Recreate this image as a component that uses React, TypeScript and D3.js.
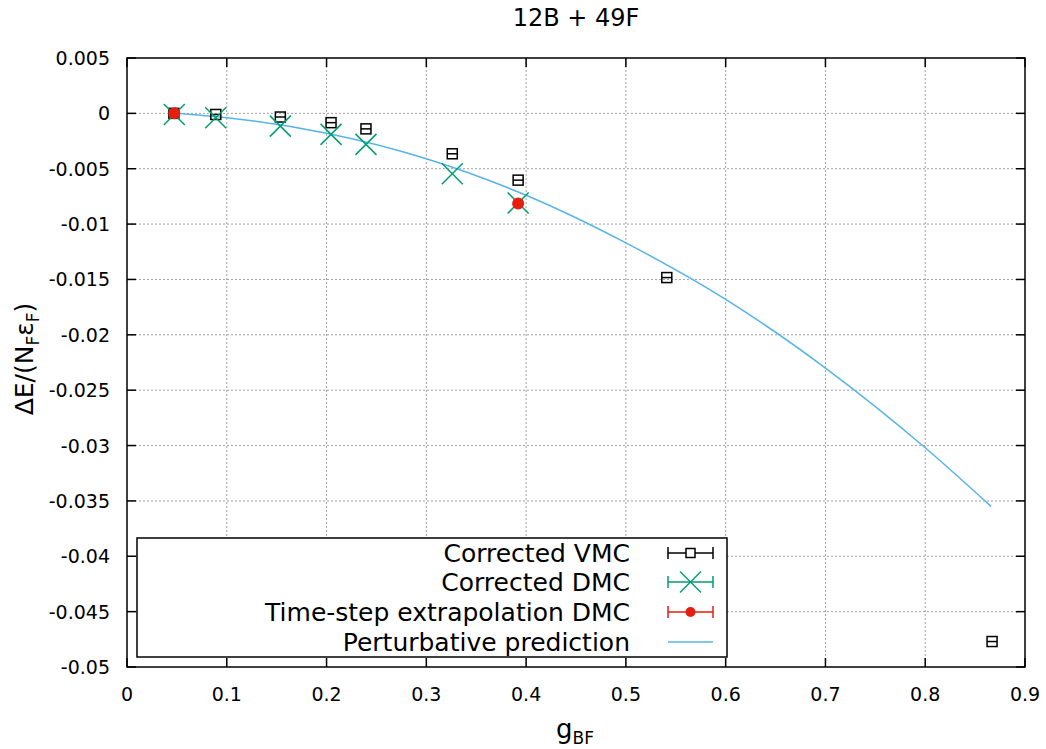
import React from "react";
import * as d3 from "d3";

const vmcX = [0.047, 0.089, 0.1537, 0.2045, 0.2395, 0.326, 0.392, 0.541, 0.867];
const vmcY = [0.0, -0.0001, -0.00033, -0.00084, -0.0014, -0.00365, -0.00603, -0.01483, -0.0477];
const dmcX = [0.0474, 0.0889, 0.1537, 0.2045, 0.2395, 0.326, 0.392];
const dmcY = [-0.0001, -0.0004, -0.00115, -0.0019, -0.0028, -0.00545, -0.0081];
const tsX = [0.0474, 0.392];
const tsY = [0.0, -0.00814];
const pertX = [0.048, 0.1, 0.2, 0.3, 0.4, 0.5, 0.6, 0.7, 0.8, 0.866];
const pertY = [0.0, -0.0004, -0.0018, -0.0041, -0.0074, -0.0117, -0.0168, -0.023, -0.0302, -0.0355];
const xTicks = [0, 0.1, 0.2, 0.3, 0.4, 0.5, 0.6, 0.7, 0.8, 0.9];
const yTicks = [0.005, 0, -0.005, -0.01, -0.015, -0.02, -0.025, -0.03, -0.035, -0.04, -0.045, -0.05];
const legendLabels = ["Corrected VMC", "Corrected DMC", "Time-step extrapolation DMC", "Perturbative prediction"];

const W = 1046, H = 749;
const L = 127, R = 1025, T = 58, B = 667;
const FONT = "DejaVu Sans, sans-serif";
const GREEN = "#009e73", RED = "#e51e10", BLUE = "#56b4e9";

export default function App() {
  const x = d3.scaleLinear().domain([0, 0.9]).range([L, R]);
  const y = d3.scaleLinear().domain([-0.05, 0.005]).range([B, T]);
  const line = d3.line<number>().x((_, i) => x(pertX[i])).y((d) => y(d)).curve(d3.curveMonotoneX);
  const fmt = (v: number) => (Math.abs(v) < 1e-12 ? "0" : String(+v.toFixed(3)));

  const box = (cx: number, cy: number, k: string) => (
    <g key={k} stroke="#000" strokeWidth={1.5} fill="none">
      <rect x={cx - 5} y={cy - 5} width={10} height={10} />
      <line x1={cx - 5} x2={cx + 5} y1={cy} y2={cy} />
    </g>
  );
  const cross = (cx: number, cy: number, k: string) => (
    <g key={k} stroke={GREEN} strokeWidth={1.5}>
      <line x1={cx - 10.5} x2={cx + 10.5} y1={cy - 10.5} y2={cy + 10.5} />
      <line x1={cx - 10.5} x2={cx + 10.5} y1={cy + 10.5} y2={cy - 10.5} />
    </g>
  );

  const legX1 = 668, legX2 = 713;
  const rows = [553, 582, 612, 642];

  return (
    <svg width={W} height={H} style={{ position: "absolute", left: 0, top: 0, background: "#fff" }} fontFamily={FONT}>
      {/* grid */}
      {xTicks.slice(1, -1).map((t) => (
        <line key={"gx" + t} x1={x(t)} x2={x(t)} y1={T} y2={B} stroke="#a0a0a0" strokeWidth={1} strokeDasharray="2,2" />
      ))}
      {yTicks.slice(1, -1).map((t) => (
        <line key={"gy" + t} x1={L} x2={R} y1={y(t)} y2={y(t)} stroke="#a0a0a0" strokeWidth={1} strokeDasharray="2,2" />
      ))}
      {/* ticks */}
      {xTicks.map((t) => (
        <g key={"tx" + t}>
          <line x1={x(t)} x2={x(t)} y1={B} y2={B - 9} stroke="#000" strokeWidth={1.5} />
          <line x1={x(t)} x2={x(t)} y1={T} y2={T + 9} stroke="#000" strokeWidth={1.5} />
          <text x={x(t)} y={B + 34} textAnchor="middle" fontSize={19}>{fmt(t)}</text>
        </g>
      ))}
      {yTicks.map((t) => (
        <g key={"ty" + t}>
          <line x1={L} x2={L + 9} y1={y(t)} y2={y(t)} stroke="#000" strokeWidth={1.5} />
          <line x1={R} x2={R - 9} y1={y(t)} y2={y(t)} stroke="#000" strokeWidth={1.5} />
          <text x={L - 17} y={y(t) + 7} textAnchor="end" fontSize={19}>{fmt(t)}</text>
        </g>
      ))}
      <rect x={L} y={T} width={R - L} height={B - T} fill="none" stroke="#000" strokeWidth={1.5} />

      {/* curve */}
      <path d={line(pertY) || ""} fill="none" stroke={BLUE} strokeWidth={1.5} />

      {/* data */}
      {vmcX.map((v, i) => box(x(v), y(vmcY[i]), "v" + i))}
      {dmcX.map((v, i) => cross(x(v), y(dmcY[i]), "d" + i))}
      {tsX.map((v, i) => (
        <circle key={"t" + i} cx={x(v)} cy={y(tsY[i])} r={6} fill={RED} />
      ))}

      {/* legend */}
      <rect x={137} y={538} width={590} height={119} fill="#fff" stroke="#000" strokeWidth={1.5} />
      {legendLabels.map((lab, i) => (
        <text key={"l" + i} x={630} y={rows[i] + 9} textAnchor="end" fontSize={25}>{lab}</text>
      ))}
      {["#000", GREEN, RED].map((c, i) => (
        <g key={"lb" + i} stroke={c} strokeWidth={1.5}>
          <line x1={legX1} x2={legX2} y1={rows[i]} y2={rows[i]} />
          <line x1={legX1} x2={legX1} y1={rows[i] - 6} y2={rows[i] + 6} />
          <line x1={legX2} x2={legX2} y1={rows[i] - 6} y2={rows[i] + 6} />
        </g>
      ))}
      <rect x={(legX1 + legX2) / 2 - 4.5} y={rows[0] - 4.5} width={9} height={9} fill="#fff" stroke="#000" strokeWidth={1.5} />
      {cross((legX1 + legX2) / 2, rows[1], "lc")}
      <circle cx={(legX1 + legX2) / 2} cy={rows[2]} r={5} fill={RED} />
      <line x1={legX1} x2={legX2} y1={rows[3]} y2={rows[3]} stroke={BLUE} strokeWidth={1.5} />

      {/* titles */}
      <text x={(L + R) / 2} y={26} textAnchor="middle" fontSize={24}>12B + 49F</text>
      <text x={575} y={738} fontSize={26} textAnchor="middle">
        g<tspan fontSize={17} dy={6}>BF</tspan>
      </text>
      <text transform={`translate(33,359) rotate(-90)`} textAnchor="middle" fontSize={25}>
        ΔE/(N<tspan fontSize={17} dy={6}>F</tspan><tspan dy={-6}>ε</tspan><tspan fontSize={17} dy={6}>F</tspan><tspan dy={-6}>)</tspan>
      </text>
    </svg>
  );
}
